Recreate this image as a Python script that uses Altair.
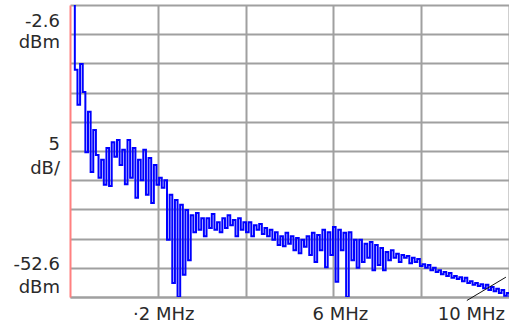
import altair as alt
import pandas as pd

# ---- swept trace: one level per frequency bin ---------------------------
START_MHZ = 0.05
BIN_MHZ = 0.06
level_dbm = [
    0.0, -13.7, -19.7, -12.7, -17.5, -27.8, -20.9, -31.2, -24.0, -28.3,
    -32.2, -29.1, -33.4, -27.1, -33.6, -26.1, -28.6, -25.7, -30.0, -27.4,
    -33.3, -25.7, -32.2, -27.1, -35.6, -29.1, -32.6, -27.4, -35.1, -28.8,
    -36.5, -30.0, -33.4, -32.2, -33.9, -32.6, -42.8, -35.1, -50.2, -36.0,
    -52.6, -36.8, -48.8, -37.7, -46.3, -38.6, -41.5, -38.2, -41.1, -39.1,
    -42.2, -39.1, -40.8, -38.4, -41.1, -39.8, -41.5, -39.1, -40.8, -38.6,
    -40.3, -39.4, -42.2, -39.1, -41.1, -39.8, -41.5, -39.8, -42.2, -40.3,
    -41.1, -40.1, -41.8, -40.8, -42.2, -41.1, -42.8, -41.5, -43.7, -42.2,
    -43.9, -41.6, -43.5, -42.2, -44.6, -42.5, -45.1, -42.8, -44.0, -42.2,
    -45.4, -41.6, -46.6, -42.0, -44.6, -41.1, -47.5, -41.5, -45.4, -40.6,
    -50.0, -41.1, -44.6, -41.6, -52.6, -41.5, -46.3, -42.8, -47.6, -42.8,
    -46.6, -43.5, -45.9, -43.2, -48.0, -43.7, -47.1, -44.2, -48.0, -44.9,
    -46.3, -44.6, -45.9, -45.2, -46.6, -45.4, -45.9, -45.6, -46.8, -45.9,
    -46.6, -46.1, -47.3, -47.0, -47.6, -47.1, -48.0, -47.6, -48.3, -48.0,
    -48.7, -48.3, -49.0, -48.5, -49.3, -49.0, -49.5, -49.2, -49.9, -49.3,
    -50.2, -49.9, -50.5, -50.2, -50.7, -50.4, -51.1, -50.5, -51.4, -50.9,
    -51.6, -51.2, -51.9, -51.4, -52.4, -51.9, -52.6,
]
freq_mhz = [round(START_MHZ + BIN_MHZ * i, 3) for i in range(len(level_dbm))]

# ---- screen graticule ---------------------------------------------------
ref_level_dbm = -2.6
bottom_level_dbm = -52.6
y_grid_dbm = [-2.6, -7.6, -12.6, -17.6, -22.6, -27.6, -32.6, -37.6, -42.6, -47.6, -52.6]
x_grid_mhz = [2, 4, 6, 8, 10]

# ---- annotation text ----------------------------------------------------
y_label_lines = ["-2.6", "dBm", "5", "dB/", "-52.6", "dBm"]
x_label_mhz = [2, 6, 10]
x_label_text = ["·2 MHz", "6 MHz", "10 MHz"]

# marker stroke near the end of the sweep
marker_mhz = [9.04, 9.93]
marker_dbm = [-53.2, -49.2]

FONT = "DejaVu Sans"
TEXT_COLOR = "#2a2a2a"
GRID_COLOR = "#a0a0a0"

trace_df = pd.DataFrame({"freq": freq_mhz, "level": level_dbm})

x_scale = alt.Scale(domain=[0, 10], nice=False, zero=False)
y_scale = alt.Scale(domain=[bottom_level_dbm, ref_level_dbm], nice=False, zero=False)

trace = (
    alt.Chart(trace_df)
    .mark_line(interpolate="step-after", color="#0000ff", strokeWidth=2, clip=True)
    .encode(
        x=alt.X(
            "freq:Q",
            scale=x_scale,
            axis=alt.Axis(
                values=x_grid_mhz, tickCount=50, grid=True, gridColor=GRID_COLOR,
                gridWidth=2, labels=False, ticks=False, domain=True,
                domainColor=GRID_COLOR, domainWidth=2, title=None,
            ),
        ),
        y=alt.Y(
            "level:Q",
            scale=y_scale,
            axis=alt.Axis(
                values=y_grid_dbm, tickCount=50, grid=True, gridColor=GRID_COLOR,
                gridWidth=2, labels=False, ticks=False, domain=True,
                domainColor="#ff8080", domainWidth=2, title=None,
            ),
        ),
    )
)

marker = (
    alt.Chart(pd.DataFrame({"freq": marker_mhz, "level": marker_dbm}))
    .mark_line(color="#111111", strokeWidth=1, clip=False)
    .encode(x=alt.X("freq:Q", scale=x_scale), y=alt.Y("level:Q", scale=y_scale))
)

# left-hand level annotations (baselines in plot pixels)
y_label_baselines = [22, 43, 145, 169, 265, 288]
y_labels = [
    alt.Chart(pd.DataFrame({"t": [line]}))
    .mark_text(align="right", baseline="alphabetic", font=FONT, fontSize=18, color=TEXT_COLOR)
    .encode(text="t:N", x=alt.value(-10), y=alt.value(yb))
    for line, yb in zip(y_label_lines, y_label_baselines)
]

# frequency annotations under the graticule
x_label_style = [
    {"align": "center", "dx": 6},
    {"align": "center", "dx": 7},
    {"align": "right", "dx": -4},
]
x_labels = [
    alt.Chart(pd.DataFrame({"f": [f], "t": [t]}))
    .mark_text(baseline="alphabetic", font=FONT, fontSize=18, color=TEXT_COLOR, **style)
    .encode(x=alt.X("f:Q", scale=x_scale), y=alt.value(315), text="t:N")
    for f, t, style in zip(x_label_mhz, x_label_text, x_label_style)
]

chart = (
    alt.layer(trace, marker, *y_labels, *x_labels)
    .properties(
        width=439,
        height=292,
        autosize=alt.AutoSizeParams(type="none"),
        padding={"left": 70, "top": 5, "right": 0, "bottom": 28},
        background="white",
    )
    .configure_view(strokeWidth=0)
)

chart.save("out.html", embed_options={"renderer": "svg", "actions": False})
